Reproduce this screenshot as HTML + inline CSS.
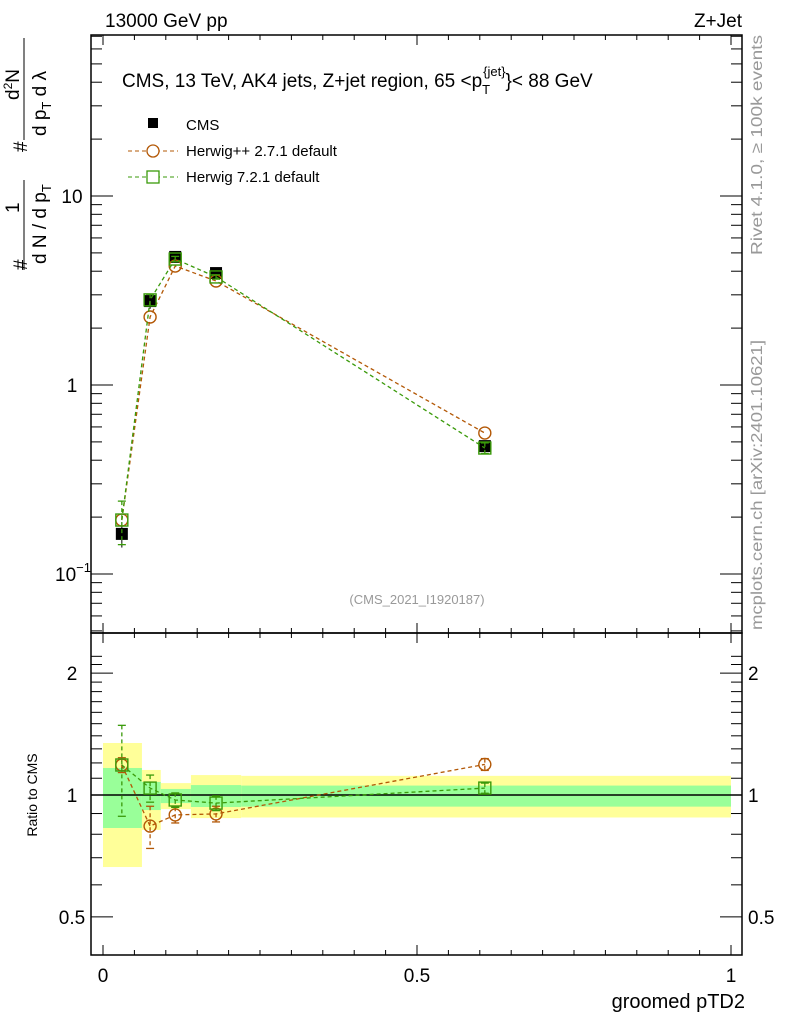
<!DOCTYPE html>
<html><head><meta charset="utf-8"><style>
body{margin:0;background:#fff}
svg{display:block;font-family:"Liberation Sans",Arial,sans-serif}
</style></head><body>
<svg id="c" width="786" height="1024" viewBox="0 0 786 1024">
<g id="bands"></g>
<rect x="91" y="35" width="651" height="598" fill="none" stroke="#000" stroke-width="1.5"/>
<rect x="91" y="633" width="651" height="322" fill="none" stroke="#000" stroke-width="1.5"/>
<g id="ticks"></g>
<g id="marks"></g>
<text x="105" y="27" font-size="19">13000 GeV pp</text>
<text x="742" y="27" font-size="19" text-anchor="end">Z+Jet</text>
<text x="122" y="87" font-size="19">CMS, 13 TeV, AK4 jets, Z+jet region, 65 &lt;p<tspan font-size="13" dy="7">T</tspan><tspan font-size="13" dx="-7" dy="-18">{jet}</tspan><tspan dy="11">}&lt; 88 GeV</tspan></text>
<g>
<rect x="148" y="118" width="10" height="10" fill="#000"/>
<text x="186" y="130" font-size="15">CMS</text>
<line x1="128" y1="151" x2="178" y2="151" stroke="#b35806" stroke-dasharray="4,3"/>
<circle cx="153" cy="151" r="6" fill="#fff" stroke="#b35806" stroke-width="1.3"/>
<text x="186" y="156" font-size="15">Herwig++ 2.7.1 default</text>
<line x1="128" y1="177" x2="178" y2="177" stroke="#3a9a0a" stroke-dasharray="4,3"/>
<rect x="147" y="171" width="12" height="12" fill="#fff" stroke="#3a9a0a" stroke-width="1.3"/>
<text x="186" y="182" font-size="15">Herwig 7.2.1 default</text>
</g>
<text x="417" y="604" font-size="13" fill="#999" text-anchor="middle">(CMS_2021_I1920187)</text>
<g transform="rotate(-90)">
<text x="-255" y="762" font-size="16" fill="#999" textLength="220" lengthAdjust="spacingAndGlyphs">Rivet 4.1.0, ≥ 100k events</text>
<text x="-630" y="762" font-size="16" fill="#999" textLength="290" lengthAdjust="spacingAndGlyphs">mcplots.cern.ch [arXiv:2401.10621]</text>
<text x="-795" y="37" font-size="14" text-anchor="middle">Ratio to CMS</text>
<g font-size="19">
<text x="-270" y="27">#</text>
<text x="-213" y="19">1</text>
<line x1="-270" x2="-180" y1="24" y2="24" stroke="#000"/>
<text x="-264" y="46">d N / d p<tspan font-size="13" dy="5">T</tspan></text>
<text x="-152" y="27">#</text>
<text x="-100" y="19">d<tspan font-size="12" dy="-7">2</tspan><tspan dy="7">N</tspan></text>
<line x1="-140" x2="-38" y1="24" y2="24" stroke="#000"/>
<text x="-136" y="46">d p<tspan font-size="13" dy="5">T</tspan><tspan dy="-5"> d λ</tspan></text>
</g>
</g>
<text x="745" y="1008" font-size="20" text-anchor="end">groomed pTD2</text>
</svg>
<script>
// main chart data
const xs = [0.030, 0.075, 0.115, 0.180, 0.608];
const binLo = [0.0, 0.062, 0.092, 0.140, 0.220];
const binHi = [0.062, 0.092, 0.140, 0.220, 1.0];
const cms = [0.163, 2.78, 4.76, 3.91, 0.475];
const cmsErr = [0.025, 0.25, 0.25, 0.2, 0.03];
const hpp = [0.193, 2.29, 4.26, 3.55, 0.557];
const h7 = [0.193, 2.82, 4.64, 3.73, 0.464];
const h7Err = [0.05, 0.2, 0.15, 0.1, 0.03];
const rHpp = [1.186, 0.838, 0.893, 0.898, 1.19];
const rHppErr = [0.05, 0.1, 0.04, 0.04, 0.04];
const rH7 = [1.186, 1.04, 0.972, 0.955, 1.04];
const rH7Err = [0.3, 0.08, 0.04, 0.04, 0.03];
const yelHi = [1.344, 1.153, 1.070, 1.12, 1.115];
const yelLo = [0.664, 0.820, 0.923, 0.877, 0.880];
const grnHi = [1.166, 1.077, 1.035, 1.058, 1.055];
const grnLo = [0.829, 0.918, 0.955, 0.934, 0.936];
const xTicks = [0, 0.5, 1];
const xTickLabels = ["0", "0.5", "1"];
const ratioTicks = [0.5, 1, 2];

const X = v => 103 + v * 628;
const Y = v => 385 - Math.log10(v) * 189;
const R = v => 795 - Math.log10(v) * 405;
const LEFT = 91, RIGHT = 742, BOT = 955;
const NS = "http://www.w3.org/2000/svg";
function mk(parent, tag, attrs) { const e = document.createElementNS(NS, tag); for (const k in attrs) e.setAttribute(k, attrs[k]); document.getElementById(parent).appendChild(e); return e; }

// bands
for (let i = 0; i < xs.length; i++) {
  let e = mk('bands', 'rect', {x: X(binLo[i]), y: R(yelHi[i]), width: X(binHi[i]) - X(binLo[i]), height: R(yelLo[i]) - R(yelHi[i]), fill: '#ffff99'});
  
  
  e = mk('bands', 'rect', {x: X(binLo[i]), y: R(grnHi[i]), width: X(binHi[i]) - X(binLo[i]), height: R(grnLo[i]) - R(grnHi[i]), fill: '#99ff99'});
  
  
}
let ref = mk('bands', 'line', {x1: LEFT, x2: RIGHT, y1: R(1), y2: R(1), stroke: '#000', 'stroke-width': 1.5});



// ticks
for (let i = 0; i < xTicks.length; i++) {
  const x = X(xTicks[i]);
  for (const [a, b] of [[633, 623], [35, 45], [BOT, BOT - 10], [633, 643]]) mk('ticks', 'line', {x1: x, x2: x, y1: a, y2: b, stroke: '#000'});
  const t = mk('ticks', 'text', {x: x, y: 982, 'font-size': 19, 'text-anchor': 'middle'});
  t.textContent = xTickLabels[i];
  
  
}
for (let v = 0.05; v <= 1.0001; v += 0.05) {
  const x = X(v);
  for (const [a, b] of [[633, 628], [35, 40], [BOT, BOT - 5], [633, 638]]) mk('ticks', 'line', {x1: x, x2: x, y1: a, y2: b, stroke: '#000'});
}
for (let d = -2; d <= 1; d++) for (let m = 1; m <= 9; m++) {
  const v = m * Math.pow(10, d), y = Y(v);
  if (y < 35 || y > 633) continue;
  const L = m === 1 ? 22 : 11;
  mk('ticks', 'line', {x1: LEFT, x2: LEFT + L, y1: y, y2: y, stroke: '#000'});
  mk('ticks', 'line', {x1: RIGHT, x2: RIGHT - L, y1: y, y2: y, stroke: '#000'});
}
[[1, "1", 72], [10, "10", 72]].forEach(([v, s, x]) => {
  const t = mk('ticks', 'text', {x: x, y: Y(v) + 7, 'font-size': 19, 'text-anchor': 'middle'}); t.textContent = s;
  
  
});
const t01 = mk('ticks', 'text', {x: 55, y: Y(0.1) + 7, 'font-size': 19});
t01.innerHTML = '10<tspan font-size="13" dy="-9">−1</tspan>';


for (let v = 0.5; v <= 2.3; v += 0.1) {
  const y = R(v), major = ratioTicks.some(r => Math.abs(r - v) < 1e-6);
  const L = major ? 22 : 11;
  mk('ticks', 'line', {x1: LEFT, x2: LEFT + L, y1: y, y2: y, stroke: '#000'});
  mk('ticks', 'line', {x1: RIGHT, x2: RIGHT - L, y1: y, y2: y, stroke: '#000'});
}
ratioTicks.forEach(v => {
  const s = String(v);
  let t = mk('ticks', 'text', {x: 72, y: R(v) + 7, 'font-size': 19, 'text-anchor': 'middle'}); t.textContent = s;
  
  
  t = mk('ticks', 'text', {x: 748, y: R(v) + 7, 'font-size': 19}); t.textContent = s;
  
  
});

// series
function series(vals, err, F, color, shape, name) {
  const pts = xs.map((x, i) => X(x) + ',' + F(vals[i])).join(' ');
  const pl = mk('marks', 'polyline', {points: pts, fill: 'none', stroke: color, 'stroke-dasharray': '4,3', 'stroke-width': 1.3});
  
  
  xs.forEach((x, i) => {
    const cx = X(x), cy = F(vals[i]);
    if (err) {
      const y1 = F(vals[i] + err[i]), y2 = F(Math.max(vals[i] - err[i], 1e-3));
      mk('marks', 'line', {x1: cx, x2: cx, y1: y1, y2: y2, stroke: color, 'stroke-dasharray': '4,3', 'stroke-width': 1.3});
      mk('marks', 'line', {x1: cx - 4, x2: cx + 4, y1: y1, y2: y1, stroke: color, 'stroke-width': 1.3});
      mk('marks', 'line', {x1: cx - 4, x2: cx + 4, y1: y2, y2: y2, stroke: color, 'stroke-width': 1.3});
    }
    let m;
    if (shape === 'circle') m = mk('marks', 'circle', {cx: cx, cy: cy, r: 6, fill: 'none', stroke: color, 'stroke-width': 1.4});
    else m = mk('marks', 'rect', {x: cx - 6, y: cy - 6, width: 12, height: 12, fill: 'none', stroke: color, 'stroke-width': 1.4});
    
    
  });
}
xs.forEach((x, i) => {
  const cx = X(x);
  mk('marks', 'line', {x1: cx, x2: cx, y1: Y(cms[i] + cmsErr[i]), y2: Y(cms[i] - cmsErr[i]), stroke: '#000'});
  const m = mk('marks', 'rect', {x: cx - 6, y: Y(cms[i]) - 6, width: 12, height: 12, fill: '#000'});
  
  
});
series(hpp, null, Y, '#b35806', 'circle', 'herwigpp');
series(h7, h7Err, Y, '#3a9a0a', 'square', 'herwig7');
series(rHpp, rHppErr, R, '#b35806', 'circle', 'ratio-herwigpp');
series(rH7, rH7Err, R, '#3a9a0a', 'square', 'ratio-herwig7');
</script>
</body></html>
